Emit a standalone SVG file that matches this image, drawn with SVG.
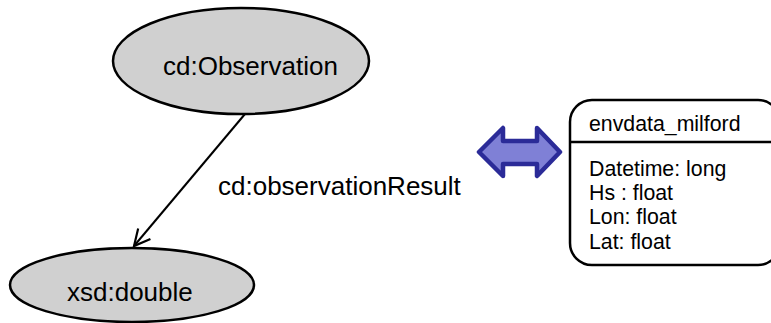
<svg xmlns="http://www.w3.org/2000/svg" width="771" height="323" viewBox="0 0 771 323">
<style>
.node ellipse{fill:#d0d0d0;stroke:#000;stroke-width:2.5}
.t{font-family:"Liberation Sans",Arial,sans-serif;fill:#000}
.big{font-size:26px}
.small{font-size:21.3px}
.edge{stroke:#000;stroke-width:2;fill:none}
</style>
<defs>
<marker id="open" viewBox="0 0 20 20" refX="18" refY="10" markerWidth="20" markerHeight="20" markerUnits="userSpaceOnUse" orient="auto">
<path d="M2,2 L18,10 L2,18" fill="none" stroke="#000" stroke-width="2.2"/>
</marker>
</defs>
<rect width="771" height="323" fill="#fff"/>
<g id="connectors">
<line class="edge" x1="245" y1="114" x2="134" y2="246" marker-end="url(#open)"/>
<text class="t big" x="218" y="195">cd:observationResult</text>
</g>
<g id="observation" class="node">
<ellipse cx="241" cy="61" rx="128" ry="53"/>
<text class="t big" x="163" y="75">cd:Observation</text>
</g>
<g id="double" class="node">
<ellipse cx="132" cy="285" rx="122" ry="37"/>
<text class="t big" x="67" y="301">xsd:double</text>
</g>
<g id="mapping">
<path d="M479,152 L503,128 L503,141 L537,141 L537,128 L560,152 L537,176 L537,164 L503,164 L503,176 Z" fill="#7f80d6" stroke="#2b2b98" stroke-width="4.5" stroke-linejoin="round"/>
</g>
<g id="envdata">
<rect x="570" y="100" width="210" height="165" rx="22" ry="22" fill="#fff" stroke="#000" stroke-width="2.5"/>
<line x1="570" y1="142" x2="780" y2="142" stroke="#000" stroke-width="2.5"/>
<text class="t small" x="589" y="131">envdata_milford</text>
<text class="t small" x="589" y="176">Datetime: long</text>
<text class="t small" x="589" y="200">Hs : float</text>
<text class="t small" x="589" y="224">Lon: float</text>
<text class="t small" x="589" y="249">Lat: float</text>
</g>
</svg>
